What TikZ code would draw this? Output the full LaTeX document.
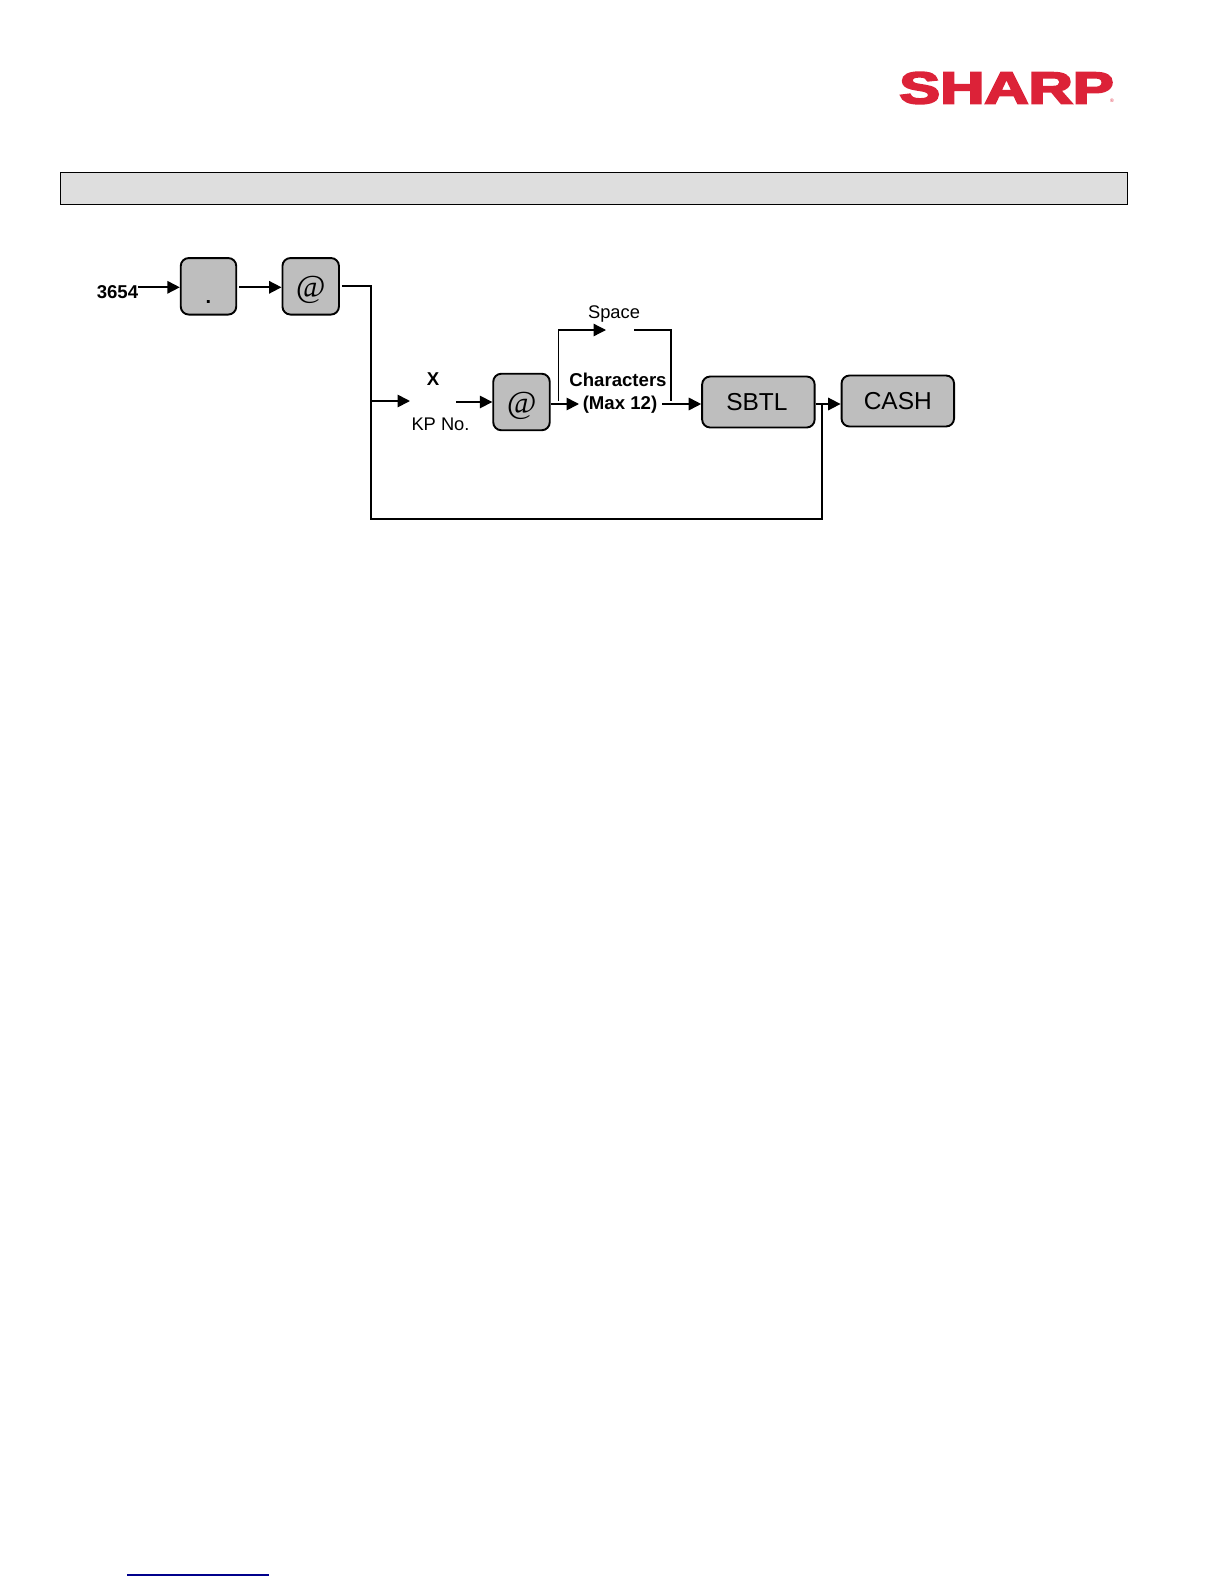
\documentclass[tikz,border=0pt]{standalone}
\usepackage{fontspec}
\setmainfont{Liberation Sans}
\newfontfamily\atfont{Liberation Serif}
\newfontfamily\logofont[FakeBold=4]{Liberation Sans Bold}
\usepackage{xcolor}
\usepackage{graphicx}
\usepackage{tikz}
\usetikzlibrary{positioning, arrows.meta}
\definecolor{keygrey}{HTML}{BEBEBE}
\definecolor{bargrey}{HTML}{DEDEDE}
\definecolor{sharpred}{HTML}{DC2238}
\definecolor{linkblue}{HTML}{00008C}

\begin{document}
\begin{tikzpicture}[
  x=1pt, y=-1pt,
  font=\fontsize{18.3}{20}\selectfont,
  key/.style={draw, line width=1.9pt, rounded corners=8pt, fill=keygrey,
    minimum width=55.5pt, minimum height=56.5pt, inner sep=0pt, text=black},
  widekey/.style={key, minimum width=112.5pt, minimum height=51pt,
    font=\fontsize{24.5}{26}\selectfont},
  atkey/.style={key, minimum width=56.5pt, font=\atfont\itshape\fontsize{32}{32}\selectfont},
  lbl/.style={inner sep=0pt, text=black},
  boldlbl/.style={lbl, font=\fontsize{18.6}{20}\selectfont\bfseries},
  arrow/.style={-{Triangle[length=12.5pt,width=12.5pt]}, line width=1.7pt},
  wire/.style={line width=1.7pt},
]
  \useasboundingbox (0,0) rectangle (1224,1584);

  \node[inner sep=0pt, text=sharpred] (logo) at (1006.5,88)
    {\scalebox{1.37}[1]{\logofont\fontsize{44.7}{46}\selectfont SHARP}};
  \node[inner sep=0pt, text=sharpred, font=\fontsize{5}{5}\selectfont] (reg) at (1112,101) {®};
  \node[draw, line width=1.2pt, fill=bargrey, minimum width=1067pt, minimum height=32.5pt,
    inner sep=0pt] (bar) at (594,188.5) {};

  \node[boldlbl] (num) at (117.5,292) {3654};
  \node[key, font=\bfseries\fontsize{20}{20}\selectfont] (dot) at (208.5,286.3)
    {\raisebox{-17pt}[0pt][0pt]{.}};
  \node[atkey, right=44.3pt of dot] (atone) {\raisebox{-11pt}[0pt][0pt]{@}};

  \node[atkey] (attwo) at (521.5,402) {\raisebox{-11pt}[0pt][0pt]{@}};
  \node[boldlbl] (kpx) at (433,379) {X};
  \node[lbl] (kpno) at (440.5,424.5) {KP No.};
  \node[lbl] (spc) at (614,314.5) {Space};
  \node[boldlbl] (chars) at (618,379.5) {Characters};
  \node[boldlbl] (charmax) at (620,404.5) {(Max 12)};
  \node[widekey, right=150.5pt of attwo] (sbtl) {\hspace*{-3pt}SBTL};
  \node[widekey, right=25pt of sbtl, yshift=1pt] (cash) {\raisebox{0.5pt}{CASH}};

  \coordinate (kpin) at (410,401);
  \coordinate (kpout) at (456,402);
  \coordinate (turn) at (371,401);
  \coordinate (charin) at (579,404);
  \coordinate (charout) at (662,404);
  \coordinate (spcleft) at (558.7,401);
  \coordinate (spcin) at (606,330);
  \coordinate (spcout) at (634.3,330);
  \coordinate (spcright) at (671,401);
  \coordinate (join) at (822.3,404);
  \coordinate (loop) at (371,518.7);
  \coordinate (linkl) at (127,1575);
  \coordinate (linkr) at (269,1575);

  \draw[arrow] ([yshift=-1pt]num.east |- dot.west) -- ([yshift=-1pt]dot.west);
  \draw[arrow] ([xshift=2pt,yshift=-1pt]dot.east) -- ([yshift=-1pt]atone.west);
  \draw[wire] ([xshift=2pt]atone.east) -| (turn);
  \draw[arrow] (turn) -- (kpin);
  \draw[arrow] (kpout) -- (attwo.west);
  \draw[arrow] (attwo.east |- charin) -- (charin);
  \draw[arrow, line width=1.3pt] (spcleft) |- (spcin);
  \draw[wire, line width=1.3pt] (spcout) -| (spcright);
  \draw[arrow] (charout) -- (sbtl.west |- charout);
  \draw[arrow] (sbtl.east |- join) -- (cash.west |- join);
  \draw[wire] (turn) -- (loop) -| (join);
  \draw[linkblue, line width=1.2pt] (linkl) -- (linkr);
\end{tikzpicture}
\end{document}
